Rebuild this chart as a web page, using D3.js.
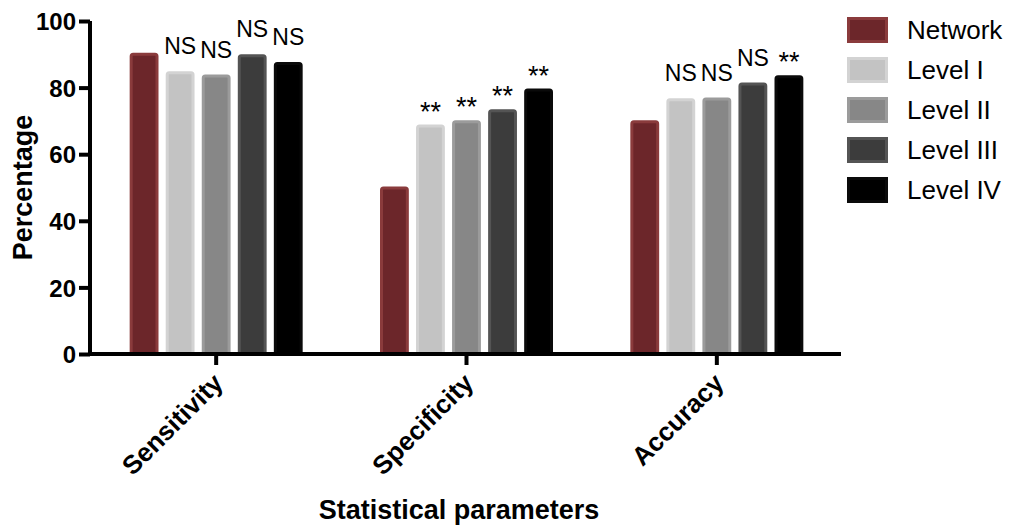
<!DOCTYPE html>
<html><head><meta charset="utf-8">
<script src="https://cdn.jsdelivr.net/npm/d3@7/dist/d3.min.js"></script>
<style>body{margin:0;background:#fff}svg{display:block}text{font-family:"Liberation Sans",Arial,Helvetica,sans-serif}</style>
</head><body>
<svg id="c" width="1014" height="526"></svg>
<script>
const categories = ["Sensitivity", "Specificity", "Accuracy"];
const seriesNames = ["Network", "Level I", "Level II", "Level III", "Level IV"];
const network  = [90.5, 50.3, 70.2];
const level1   = [84.9, 68.9, 76.8];
const level2   = [83.9, 70.2, 77.0];
const level3   = [90.0, 73.5, 81.5];
const level4   = [87.7, 79.7, 83.7];
const sigNetwork = ["", "", ""];
const sigLevel1  = ["NS", "**", "NS"];
const sigLevel2  = ["NS", "**", "NS"];
const sigLevel3  = ["NS", "**", "NS"];
const sigLevel4  = ["NS", "**", "**"];
const yTicks = [0, 20, 40, 60, 80, 100];

const seriesValues = [network, level1, level2, level3, level4];
const seriesSig = [sigNetwork, sigLevel1, sigLevel2, sigLevel3, sigLevel4];
const fills   = ["#6c262a", "#c3c3c3", "#878787", "#3c3c3c", "#000000"];
const strokes = ["#8a3b3c", "#d3d3d3", "#9b9b9b", "#545454", "#0a0a0a"];

const svg = d3.select("#c");
const x0 = d3.scaleBand().domain(categories).range([91, 842]).paddingInner(0).paddingOuter(0);
const groupW = 173;
const x1 = d3.scaleBand().domain(seriesNames).range([0, groupW]).paddingInner(0.2).paddingOuter(0);
const y = d3.scaleLinear().domain([0, 100]).range([354, 21]);

// bars
seriesNames.forEach((s, si) => {
  const g = svg.append("g");
  categories.forEach((c, ci) => {
    const v = seriesValues[si][ci];
    const bx = x0(c) + (x0.bandwidth() - groupW) / 2 + x1(s);
    g.append("rect")
      .attr("x", bx + 1.5).attr("y", y(v) + 1.5)
      .attr("width", x1.bandwidth() - 3).attr("height", y(0) - y(v) - 1.5)
      .attr("rx", 2)
      .attr("fill", fills[si]).attr("stroke", strokes[si]).attr("stroke-width", 3);
    const lab = seriesSig[si][ci];
    if (lab) {
      const isStar = lab === "**";
      g.append("text")
        .attr("x", bx + x1.bandwidth() / 2)
        .attr("y", y(v) - (isStar ? 4 : 17))
        .attr("text-anchor", "middle")
        .attr("font-size", isStar ? 27 : 23)
        .attr("fill", "#000")
        .text(lab);
    }
  });
});

// y axis
const yAxis = svg.append("g").attr("transform", "translate(90,0)")
  .call(d3.axisLeft(y).tickValues(yTicks).tickSize(11).tickPadding(3).tickSizeOuter(0));
yAxis.select(".domain").attr("stroke", "#000").attr("stroke-width", 4).attr("d", `M0,${y(100)}V${y(0)+2}`);
yAxis.selectAll(".tick line").attr("stroke", "#000").attr("stroke-width", 4);
yAxis.selectAll(".tick text").attr("font-size", 24).attr("font-weight", "bold").attr("fill", "#000").attr("dy", "0.36em");

// x axis
const xAxis = svg.append("g").attr("transform", `translate(0,${y(0)})`)
  .call(d3.axisBottom(x0).tickSize(11).tickSizeOuter(0).tickPadding(10));
xAxis.select(".domain").attr("stroke", "#000").attr("stroke-width", 4).attr("d", "M88,0H841");
xAxis.selectAll(".tick line").attr("stroke", "#000").attr("stroke-width", 4);
xAxis.selectAll(".tick text")
  .attr("font-size", 26).attr("font-weight", "bold").attr("fill", "#000")
  .attr("text-anchor", "end")
  .attr("transform", "translate(2,24) rotate(-45)")
  .attr("dy", "0.35em").attr("y", 0).attr("x", 0);

// titles
svg.append("text").attr("transform", `translate(32,${(y(0)+y(100))/2}) rotate(-90)`)
  .attr("text-anchor", "middle").attr("font-size", 27).attr("font-weight", "bold").text("Percentage");
svg.append("text").attr("x", 459).attr("y", 519)
  .attr("text-anchor", "middle").attr("font-size", 27).attr("font-weight", "bold").text("Statistical parameters");

// legend
const leg = svg.append("g");
seriesNames.forEach((s, i) => {
  const yy = 17 + i * 40;
  leg.append("rect").attr("x", 848.5).attr("y", yy + 1.5).attr("width", 38).attr("height", 23)
    .attr("fill", fills[i]).attr("stroke", strokes[i]).attr("stroke-width", 3);
  leg.append("text").attr("x", 907).attr("y", yy + 22).attr("font-size", 26).attr("fill", "#000").text(s);
});
</script>
</body></html>
